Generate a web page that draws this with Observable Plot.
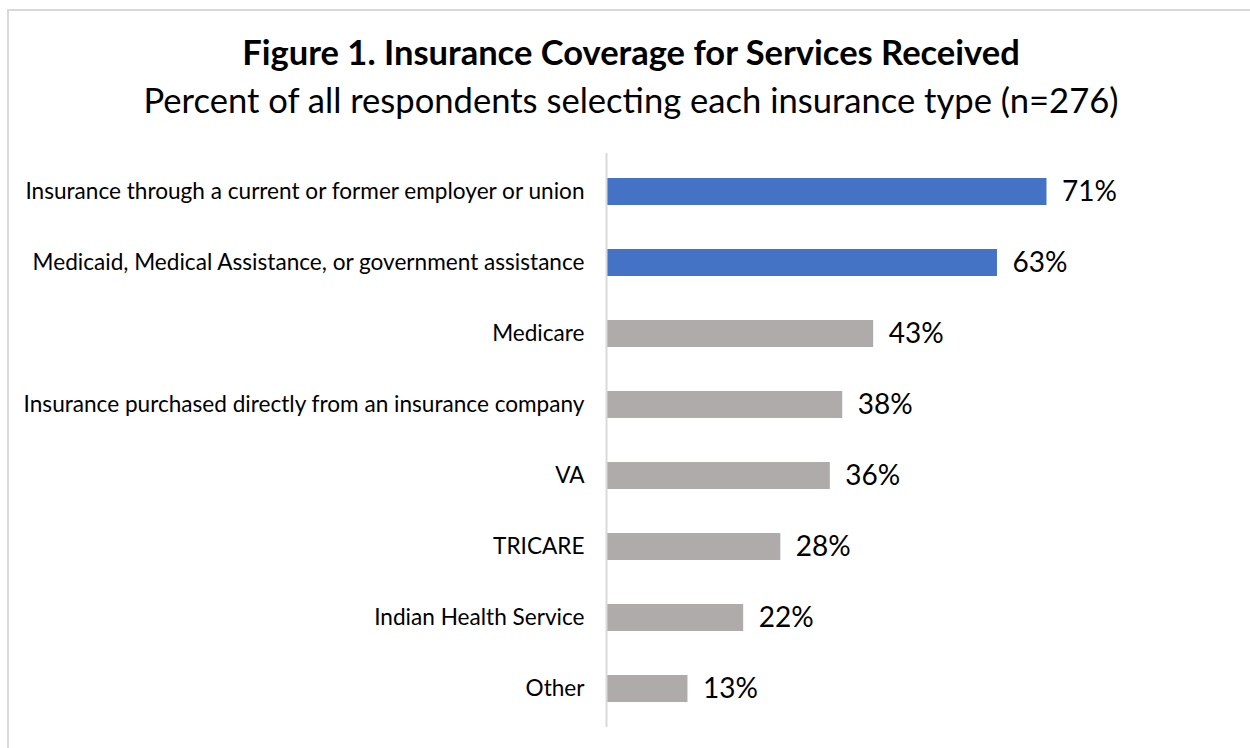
<!DOCTYPE html>
<html>
<head>
<meta charset="utf-8">
<script src="https://cdn.jsdelivr.net/npm/d3@7"></script>
<script src="https://cdn.jsdelivr.net/npm/@observablehq/plot@0.6"></script>
<style>
  html, body { margin: 0; padding: 0; background: #fff; overflow: hidden; }
  body { width: 1250px; height: 748px; position: relative; font-family: Lato, "Open Sans", sans-serif; }
  #frame { position: absolute; left: 7px; top: 9px; width: 1300px; height: 800px; border: 2px solid #d9d9d9; box-sizing: border-box; }
  #title { position: absolute; left: 0; width: 1262px; top: 30px; text-align: center; font-size: 34.5px; font-weight: bold; color: #000; line-height: 44px; }
  #subtitle { position: absolute; left: 0; width: 1262px; top: 78px; text-align: center; font-size: 34.6px; color: #000; line-height: 44px; }
  #chart { position: absolute; left: 0; top: 140px; }
</style>
</head>
<body>
<div id="frame"></div>
<div id="title">Figure 1. Insurance Coverage for Services Received</div>
<div id="subtitle">Percent of all respondents selecting each insurance type (n=276)</div>
<div id="chart"></div>
<script>
const categories = [
  "Insurance through a current or former employer or union",
  "Medicaid, Medical Assistance, or government assistance",
  "Medicare",
  "Insurance purchased directly from an insurance company",
  "VA",
  "TRICARE",
  "Indian Health Service",
  "Other"
];
const values = [71, 63, 43, 38, 36, 28, 22, 13];
const highlighted = [true, true, false, false, false, false, false, false];

const data = categories.map((c, i) => ({category: c, value: values[i], hi: highlighted[i]}));

const chart = Plot.plot({
  width: 1250,
  height: 608,
  marginTop: 13,
  marginBottom: 21,
  marginLeft: 607,
  marginRight: 24,
  style: {fontFamily: "Lato, 'Open Sans', sans-serif", color: "#000", background: "transparent"},
  x: {domain: [0, 100], axis: null},
  y: {domain: categories, paddingInner: 0.62, paddingOuter: 0.31, label: null},
  marks: [
    Plot.barX(data, {y: "category", x: "value", fill: d => d.hi ? "#4472C4" : "#AFABAB"}),
    Plot.text(data, {y: "category", x: "value", text: d => d.value + "%", dx: 15, textAnchor: "start", fontSize: 28, fill: "#000"}),
    Plot.axisY({tickSize: 0, tickPadding: 23, fontSize: 22.6, label: null}),
    Plot.ruleX([0], {stroke: "#d9d9d9", strokeWidth: 2, dx: -1})
  ]
});
document.getElementById("chart").appendChild(chart);
</script>
</body>
</html>
